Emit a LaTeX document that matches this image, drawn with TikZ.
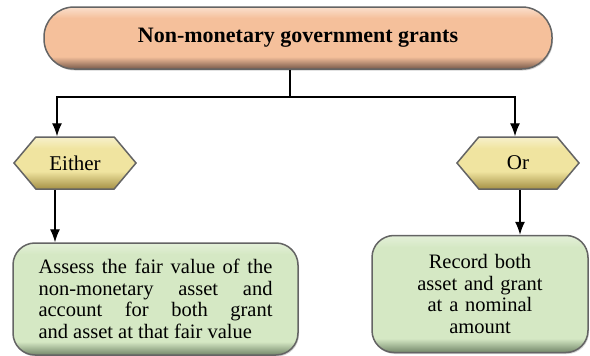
\documentclass[tikz,border=0pt]{standalone}
\usepackage{fontspec}
\setmainfont{Liberation Serif}
\usetikzlibrary{shapes.symbols, arrows.meta, shadows}

\definecolor{headfill}{RGB}{245,192,155}
\definecolor{headdark}{RGB}{120,90,75}
\definecolor{choicefill}{RGB}{240,228,160}
\definecolor{choicedark}{RGB}{165,145,70}
\definecolor{resultfill}{RGB}{213,232,196}
\definecolor{resultdark}{RGB}{115,135,105}
\definecolor{edge}{RGB}{100,100,100}

% vertical shadings: dark band at the bottom, light band at the top
\pgfdeclareverticalshading{headshade}{100bp}{color(0bp)=(headdark); color(25bp)=(headdark); color(35bp)=(headfill); color(66bp)=(headfill); color(75bp)=(headfill!50!white); color(100bp)=(headfill!50!white)}
\pgfdeclareverticalshading{choiceshade}{100bp}{color(0bp)=(choicedark); color(25bp)=(choicedark); color(42bp)=(choicefill); color(64bp)=(choicefill); color(75bp)=(choicefill!55!white); color(100bp)=(choicefill!55!white)}
\pgfdeclareverticalshading{resultshade}{100bp}{color(0bp)=(resultdark); color(25bp)=(resultdark); color(31bp)=(resultfill); color(70bp)=(resultfill); color(75bp)=(resultfill!65!white); color(100bp)=(resultfill!65!white)}

\begin{document}
\begin{tikzpicture}[
  x=1pt, y=-1pt,
  head/.style={rectangle, rounded corners=30pt, draw=edge, line width=1.5pt, shading=headshade, minimum width=508pt, minimum height=62pt, font=\fontsize{22}{24}\selectfont\bfseries, drop shadow={opacity=0.35, shadow xshift=1pt, shadow yshift=-1.5pt}},
  choice/.style={signal, signal to=east and west, signal pointer angle=100, draw=edge, line width=1.5pt, shading=choiceshade, minimum width=122pt, minimum height=52pt, inner sep=0pt, font=\fontsize{21}{24}\selectfont},
  result/.style={rectangle, rounded corners=22pt, draw=edge, line width=1.5pt, shading=resultshade, font=\fontsize{20.5}{21.5}\selectfont, drop shadow={opacity=0.35, shadow xshift=1pt, shadow yshift=-1.5pt}},
  arrow/.style={line width=1.2pt, -{Latex[length=13pt,width=10pt]}}
]
\useasboundingbox (0,0) rectangle (590,356);

\node (grants) [head] at (298,38) {Non-monetary government grants};

\node (either) [choice] at (75,163) {Either};
\node (or) [choice] at (518,163) {Or};

\node (fair) [result, minimum width=285pt, minimum height=112pt, text width=234pt, align=justify] at (155.5,299)
  {Assess the fair value of the\linebreak non-monetary asset and\linebreak account for both grant\linebreak and asset at that fair value};
\node (nominal) [result, minimum width=216pt, minimum height=117pt, text width=180pt, align=center] at (480,294)
  {Record both\\ asset and grant\\ at a nominal\\ amount};

\coordinate (split) at (290,97);
\draw [line width=1.2pt] (grants.south -| split) -- (split);
\draw [arrow] (split) -| ([xshift=-18pt]either.north);
\draw [arrow] (split) -| ([xshift=-3pt]or.north);
\draw [arrow] ([xshift=-20pt]either.south) -- ([xshift=-20pt]either.south |- fair.north);
\draw [arrow] ([xshift=2pt]or.south) -- ([xshift=2pt]or.south |- nominal.north);
\end{tikzpicture}
\end{document}
